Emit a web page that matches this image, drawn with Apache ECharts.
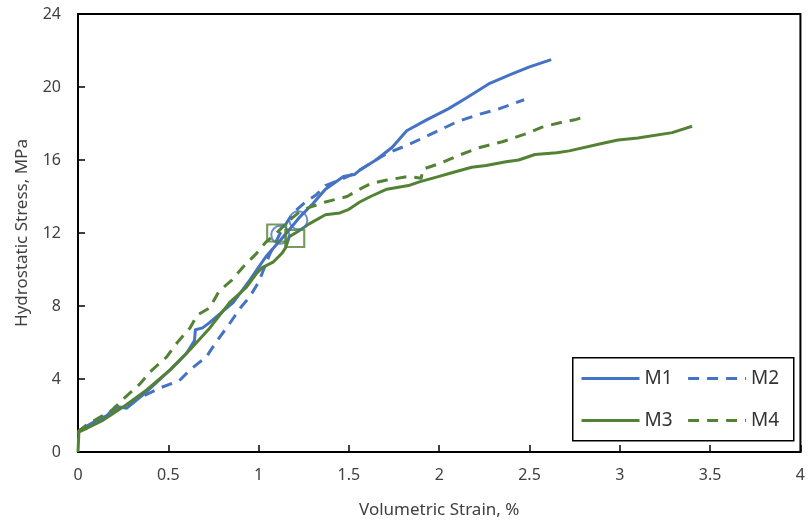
<!DOCTYPE html>
<html>
<head>
<meta charset="utf-8">
<script src="https://cdn.jsdelivr.net/npm/echarts@6/dist/echarts.min.js"></script>
<style>html,body{margin:0;padding:0;background:#fff;}#c{width:808px;height:527px;}</style>
</head>
<body>
<div id="c"></div>
<script>
// ---- data ----
const seriesNames = ['M1', 'M2', 'M3', 'M4'];
const xTicks = [0, 0.5, 1, 1.5, 2, 2.5, 3, 3.5, 4];
const yTicks = [0, 4, 8, 12, 16, 20, 24];

const m1X = [0, 0.01, 0.08, 0.16, 0.21, 0.27, 0.38, 0.51, 0.60, 0.645, 0.65, 0.69, 0.73, 0.86, 0.95, 1.04, 1.12, 1.18, 1.23, 1.30, 1.37, 1.47, 1.53, 1.56, 1.65, 1.74, 1.82, 1.93, 2.05, 2.15, 2.28, 2.40, 2.50, 2.62];
const m1Y = [1.0, 1.2, 1.6, 2.0, 2.5, 2.4, 3.3, 4.5, 5.4, 6.1, 6.7, 6.8, 7.1, 8.2, 9.4, 10.7, 11.6, 12.3, 12.9, 13.6, 14.4, 15.1, 15.2, 15.45, 16.0, 16.7, 17.6, 18.2, 18.8, 19.4, 20.2, 20.7, 21.1, 21.5];

const m2X = [0, 0.05, 0.15, 0.25, 0.35, 0.45, 0.56, 0.62, 0.67, 0.71, 0.77, 0.83, 0.90, 0.95, 1.0, 1.06, 1.12, 1.19, 1.26, 1.32, 1.37, 1.45, 1.54, 1.63, 1.72, 1.82, 1.93, 2.10, 2.22, 2.33, 2.47];
const m2Y = [1.1, 1.4, 2.0, 2.5, 3.0, 3.5, 3.9, 4.5, 4.9, 5.2, 6.1, 6.9, 7.9, 8.5, 9.3, 10.8, 12.0, 13.1, 13.7, 14.1, 14.6, 14.9, 15.3, 15.9, 16.4, 16.8, 17.3, 18.1, 18.5, 18.8, 19.3];

const m3X = [0, 0.005, 0.05, 0.14, 0.27, 0.38, 0.51, 0.55, 0.62, 0.73, 0.84, 0.93, 0.99, 1.02, 1.08, 1.13, 1.15, 1.17, 1.22, 1.28, 1.37, 1.45, 1.50, 1.56, 1.62, 1.71, 1.83, 1.89, 2.0, 2.07, 2.18, 2.26, 2.37, 2.44, 2.53, 2.65, 2.72, 2.90, 2.99, 3.10, 3.29, 3.40];
const m3Y = [0, 1.1, 1.3, 1.75, 2.6, 3.4, 4.5, 4.9, 5.6, 6.8, 8.2, 9.0, 9.8, 10.1, 10.4, 10.9, 11.2, 11.8, 12.1, 12.5, 13.0, 13.1, 13.3, 13.7, 14.0, 14.4, 14.6, 14.8, 15.1, 15.3, 15.6, 15.7, 15.9, 16.0, 16.3, 16.4, 16.5, 16.9, 17.1, 17.2, 17.5, 17.85];

const m4X = [0, 0.05, 0.12, 0.19, 0.25, 0.34, 0.40, 0.49, 0.55, 0.62, 0.66, 0.73, 0.78, 0.85, 0.92, 0.99, 1.04, 1.10, 1.17, 1.22, 1.28, 1.37, 1.49, 1.56, 1.62, 1.71, 1.83, 1.90, 1.91, 2.0, 2.12, 2.23, 2.35, 2.47, 2.57, 2.69, 2.75, 2.80];
const m4Y = [1.1, 1.5, 1.9, 2.3, 2.9, 3.7, 4.4, 5.2, 6.0, 6.8, 7.5, 7.9, 8.8, 9.4, 10.2, 10.9, 11.5, 12.0, 12.7, 13.1, 13.4, 13.7, 14.0, 14.4, 14.7, 14.9, 15.1, 15.0, 15.5, 15.8, 16.3, 16.7, 17.0, 17.4, 17.8, 18.1, 18.2, 18.35];

const circleX = [1.12, 1.22];
const circleY = [11.9, 12.7];
const squareX = [1.10, 1.20];
const squareY = [12.0, 11.7];

// ---- styles ----
const BLUE = '#4472C4';
const GREEN = '#548235';
const TXT = '#404040';
const FONT = "'Noto Sans', sans-serif";
const LW = 3;

function pairs(xs, ys) { return xs.map((x, i) => [x, ys[i]]); }

function lineSeries(name, xs, ys, color, dashed) {
  return {
    name: name, type: 'line', data: pairs(xs, ys),
    symbol: 'none', showSymbol: false, smooth: false,
    lineStyle: { color: color, width: LW, type: dashed ? [11, 8] : 'solid', cap: 'butt', join: 'round' },
    itemStyle: { color: color },
    emphasis: { disabled: true }, animation: false, z: 3
  };
}

const legendCommon = {
  itemWidth: 58, itemHeight: 16, itemGap: 14, padding: 0,
  textStyle: { color: '#333', fontSize: 19, fontFamily: FONT },
  itemStyle: { opacity: 0, borderWidth: 0 },
  lineStyle: { width: 3 },
  selectedMode: false
};

const chart = echarts.init(document.getElementById('c'), null, { renderer: 'canvas' });
chart.setOption({
  animation: false,
  backgroundColor: '#fff',
  grid: { left: 78, right: 6, top: 14, bottom: 75, show: true, borderColor: '#000', borderWidth: 2, backgroundColor: 'transparent' },
  xAxis: {
    type: 'value', min: xTicks[0], max: xTicks[xTicks.length - 1], interval: 0.5,
    name: 'Volumetric Strain, %', nameLocation: 'middle', nameGap: 50,
    nameTextStyle: { color: TXT, fontSize: 17, fontFamily: FONT },
    axisLine: { show: true, lineStyle: { color: '#000', width: 2 } },
    axisTick: { show: true, inside: true, length: 7, lineStyle: { color: '#000', width: 1.5 } },
    axisLabel: { color: TXT, fontSize: 16, fontFamily: FONT, margin: 15 },
    splitLine: { show: false }
  },
  yAxis: {
    type: 'value', min: yTicks[0], max: yTicks[yTicks.length - 1], interval: 4,
    name: 'Hydrostatic Stress, MPa', nameLocation: 'middle', nameGap: 47,
    nameTextStyle: { color: TXT, fontSize: 17, fontFamily: FONT },
    axisLine: { show: true, lineStyle: { color: '#000', width: 2 } },
    axisTick: { show: true, inside: true, length: 7, lineStyle: { color: '#000', width: 1.5 } },
    axisLabel: { color: TXT, fontSize: 16, fontFamily: FONT, margin: 17 },
    splitLine: { show: false }
  },
  legend: [
    Object.assign({ data: [seriesNames[0], seriesNames[1]], left: 580, top: 369 }, legendCommon),
    Object.assign({ data: [seriesNames[2], seriesNames[3]], left: 580, top: 411 }, legendCommon)
  ],
  graphic: [
    { type: 'rect', left: 572, top: 357, shape: { width: 221, height: 83 }, z: -1,
      style: { fill: '#fff', stroke: '#000', lineWidth: 1.5 } }
  ],
  series: [
    lineSeries(seriesNames[0], m1X, m1Y, BLUE, false),
    lineSeries(seriesNames[1], m2X, m2Y, BLUE, true),
    lineSeries(seriesNames[2], m3X, m3Y, GREEN, false),
    lineSeries(seriesNames[3], m4X, m4Y, GREEN, true),
    { name: 'circles', type: 'scatter', data: pairs(circleX, circleY), symbol: 'circle', symbolSize: 18,
      itemStyle: { color: 'rgba(0,0,0,0)', borderColor: BLUE, borderWidth: 2 }, z: 4, silent: true },
    { name: 'squares', type: 'scatter', data: pairs(squareX, squareY), symbol: 'rect', symbolSize: [19, 17],
      itemStyle: { color: 'rgba(0,0,0,0)', borderColor: GREEN, borderWidth: 2 }, z: 4, silent: true }
  ]
});
</script>
</body>
</html>
